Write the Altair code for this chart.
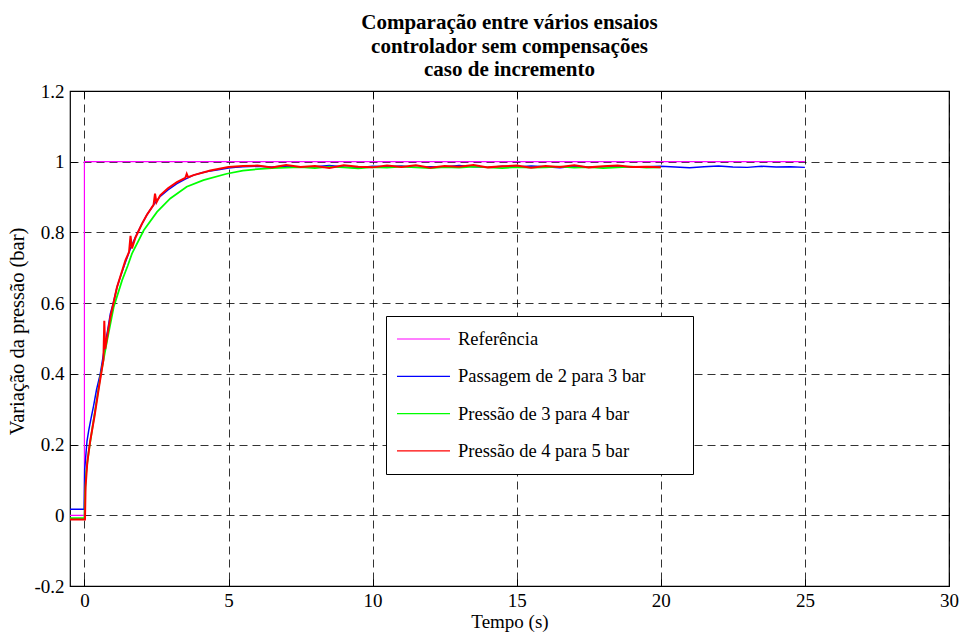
import altair as alt
import pandas as pd

SERIES = ["Referência", "Passagem de 2 para 3 bar", "Pressão de 3 para 4 bar", "Pressão de 4 para 5 bar"]
COLORS = ["#ff00ff", "#0000ff", "#00ff00", "#ff0000"]
WIDTHS = [1.2, 2.0, 2.0, 2.6]

X_TICKS = [0, 5, 10, 15, 20, 25, 30]
Y_TICKS = [-0.2, 0, 0.2, 0.4, 0.6, 0.8, 1, 1.2]

T_REF = [-0.5, 0.0, 0.0, 25.0]
V_REF = [0.0, 0.0, 1.0, 1.0]

T_BLUE = [-0.5, -0.01, 0.01, 0.04, 0.09, 0.15, 0.22, 0.32, 0.42, 0.55,
          0.64, 0.73, 0.8, 0.9, 1.0, 1.13, 1.27, 1.42, 1.6, 1.77,
          1.97, 2.17, 2.4, 2.63, 2.9, 3.21, 3.5, 3.79, 4.08, 4.37,
          4.7, 5.0, 5.25, 5.5,
          6.0, 6.5, 7.0, 7.5, 8.0, 8.5, 9.0, 9.5, 10.0, 10.5,
          11.0, 11.5, 12.0, 12.5, 13.0, 13.5, 14.0, 14.5, 15.0, 15.5,
          16.0, 16.5, 17.0, 17.5, 18.0, 18.5, 19.0, 19.5, 20.0, 20.5,
          21.0, 21.5, 22.0, 22.5, 23.0, 23.5, 24.0, 24.5, 25.0]
V_BLUE = [0.017, 0.017, 0.13, 0.16, 0.21, 0.24, 0.27, 0.31, 0.355, 0.40,
          0.445, 0.49, 0.52, 0.57, 0.60, 0.645, 0.68, 0.715, 0.755, 0.787,
          0.82, 0.85, 0.878, 0.902, 0.92, 0.938, 0.951, 0.962, 0.969, 0.974,
          0.978, 0.982, 0.984, 0.986,
          0.987, 0.985, 0.988, 0.984, 0.986, 0.989, 0.985, 0.983, 0.987, 0.986,
          0.988, 0.984, 0.986, 0.985, 0.989, 0.986, 0.984, 0.987, 0.985, 0.988,
          0.986, 0.983, 0.987, 0.985, 0.986, 0.988, 0.984, 0.986, 0.987, 0.985,
          0.983, 0.986, 0.988, 0.985, 0.984, 0.987, 0.985, 0.986, 0.984]

T_GREEN = [-0.5, 0.0, 0.02, 0.06, 0.15, 0.32, 0.55, 0.79, 1.02, 1.31,
           1.5, 1.65, 2.06, 2.52, 2.98, 3.55, 4.13, 4.94, 5.5, 6.0,
           6.5,
           7.0, 7.5, 8.0, 8.5, 9.0, 9.5, 10.0, 10.5, 11.0, 11.5,
           12.0, 12.5, 13.0, 13.5, 14.0, 14.5, 15.0, 15.5, 16.0, 16.5,
           17.0, 17.5, 18.0, 18.5, 19.0, 19.5, 20.0]
V_GREEN = [-0.008, -0.008, 0.06, 0.12, 0.18, 0.27, 0.39, 0.495, 0.59, 0.665,
           0.705, 0.74, 0.806, 0.858, 0.896, 0.929, 0.948, 0.966, 0.975, 0.979,
           0.982,
           0.983, 0.985, 0.982, 0.986, 0.984, 0.981, 0.985, 0.983, 0.986, 0.984,
           0.982, 0.985, 0.983, 0.986, 0.984, 0.982, 0.985, 0.983, 0.984, 0.986,
           0.983, 0.985, 0.982, 0.984, 0.986, 0.983, 0.984]

T_RED = [-0.5, 0.02, 0.04, 0.1, 0.2, 0.35, 0.5, 0.6, 0.66, 0.69,
         0.72, 0.9, 1.13, 1.42, 1.55, 1.6, 1.65, 1.77, 2.0, 2.17,
         2.4, 2.45, 2.5, 2.63, 2.9, 3.21, 3.5, 3.55, 3.6, 3.79,
         4.37, 5.0, 5.5,
         6.0, 6.5, 7.0, 7.5, 8.0, 8.5, 9.0, 9.5, 10.0, 10.5,
         11.0, 11.5, 12.0, 12.5, 13.0, 13.5, 14.0, 14.5, 15.0, 15.5,
         16.0, 16.5, 17.0, 17.5, 18.0, 18.5, 19.0, 19.5, 20.0]
V_RED = [-0.012, -0.012, 0.08, 0.15, 0.21, 0.28, 0.36, 0.41, 0.44, 0.55,
         0.47, 0.56, 0.645, 0.72, 0.745, 0.79, 0.755, 0.785, 0.825, 0.85,
         0.878, 0.91, 0.885, 0.905, 0.925, 0.942, 0.954, 0.966, 0.956, 0.962,
         0.975, 0.985, 0.988,
         0.989, 0.984, 0.991, 0.985, 0.988, 0.982, 0.990, 0.986, 0.984, 0.989,
         0.985, 0.990, 0.983, 0.988, 0.986, 0.991, 0.984, 0.987, 0.989, 0.983,
         0.988, 0.985, 0.990, 0.984, 0.987, 0.989, 0.985, 0.986, 0.984]

rows = []
for k, (name, ts, vs) in enumerate([(SERIES[0], T_REF, V_REF), (SERIES[1], T_BLUE, V_BLUE),
                                    (SERIES[2], T_GREEN, V_GREEN), (SERIES[3], T_RED, V_RED)]):
    for i, (t, v) in enumerate(zip(ts, vs, strict=True)):
        rows.append({"serie": name, "espessura": f"s{k}", "t": t, "v": v, "idx": i})
df = pd.DataFrame(rows)

FONT = "Liberation Serif"
PAD = "\u00a0" * 8 + "\u200b"

x_scale = alt.Scale(domain=[-0.5, 30], nice=False, zero=False)
y_scale = alt.Scale(domain=[-0.2, 1.2], nice=False, zero=False)

x_enc = alt.X("t:Q", scale=x_scale,
              axis=alt.Axis(values=X_TICKS, title="Tempo (s)", grid=True, domain=False,
                            ticks=True, tickSize=7, offset=-7, tickColor="black",
                            labelPadding=5, titlePadding=2, labelFlush=False))
y_enc = alt.Y("v:Q", scale=y_scale,
              axis=alt.Axis(values=Y_TICKS, title="Variação da pressão (bar)", grid=True,
                            domain=False, ticks=True, tickSize=7, offset=-7, tickColor="black",
                            labelPadding=6, titlePadding=6, labelExpr="datum.value + ''",
                            titleFontSize=20.5, titleY=240, labelFlush=False))
color_enc = alt.Color("serie:N", scale=alt.Scale(domain=SERIES, range=COLORS),
                      legend=alt.Legend(title=None, orient="none", legendX=316, legendY=225,
                                        symbolType="stroke", symbolSize=2809, symbolStrokeWidth=1.2,
                                        labelFont=FONT, labelFontSize=18.5, labelColor="black",
                                        labelOffset=7, clipHeight=26, rowPadding=11.3,
                                        labelLimit=600,
                                        padding=10, strokeColor="black", fillColor="white",
                                        labelExpr="datum.label + '" + PAD + "'"))

lines = alt.Chart(df).mark_line().encode(
    x=x_enc, y=y_enc, color=color_enc, order="idx:Q",
    strokeWidth=alt.StrokeWidth("espessura:N",
                                scale=alt.Scale(domain=["s0", "s1", "s2", "s3"], range=WIDTHS),
                                legend=None),
)

mirror = alt.Chart(df).mark_line(opacity=0).encode(
    x=alt.X("t:Q", scale=x_scale,
            axis=alt.Axis(orient="top", values=X_TICKS, labels=False, title=None, grid=False,
                          domain=False, ticks=True, tickSize=7, offset=-7, tickColor="black")),
    y=alt.Y("v:Q", scale=y_scale,
            axis=alt.Axis(orient="right", values=Y_TICKS, labels=False, title=None, grid=False,
                          domain=False, ticks=True, tickSize=7, offset=-7, tickColor="black")),
    detail="serie:N",
)

chart = alt.layer(lines, mirror).resolve_axis(x="independent", y="independent").properties(
    width=879, height=495,
    background="white",
    title=alt.TitleParams(
        text=["Comparação entre vários ensaios", "controlador sem compensações", "caso de incremento"],
        font=FONT, fontSize=21, fontWeight="bold", color="black", lineHeight=23.5,
        anchor="middle", offset=2),
    autosize=alt.AutoSizeParams(type="none"),
    padding={"left": 70, "top": 91, "right": 12, "bottom": 46},
).configure_view(stroke="black", strokeWidth=1.2).configure_axis(
    labelFont=FONT, labelFontSize=19, labelColor="black",
    titleFont=FONT, titleFontSize=19, titleFontWeight="normal", titleColor="black",
    gridColor="black", gridOpacity=0.8, gridDash=[8, 5], gridWidth=1,
)

chart.save("out.html", embed_options={"renderer": "svg", "actions": False})
